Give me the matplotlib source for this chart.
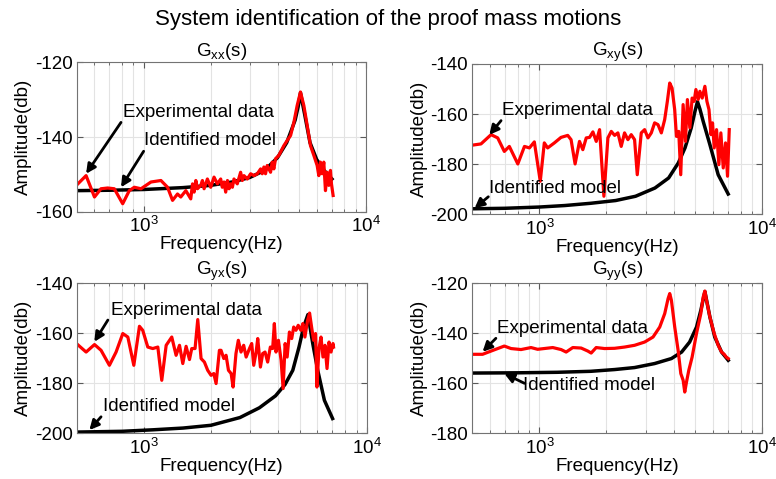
import numpy as np
import matplotlib
matplotlib.use("Agg")
import matplotlib.pyplot as plt
from matplotlib.ticker import LogLocator, NullFormatter, FixedLocator

plt.rcParams["font.family"] = ["Liberation Sans", "DejaVu Sans"]
plt.rcParams["mathtext.fontset"] = "custom"
plt.rcParams["mathtext.rm"] = "Liberation Sans"
plt.rcParams["axes.unicode_minus"] = False

# ----- data -----

# G_xx
gxx_exp_f = [506, 551, 601, 643, 689, 738, 805, 862, 908, 973,
             1079, 1196, 1281, 1349, 1420, 1469, 1548, 1629, 1659, 1687,
             1717, 1746, 1807, 1838, 1870, 1935, 2003, 2073, 2146, 2221,
             2258, 2299, 2339, 2382, 2422, 2465, 2507, 2549, 2637, 2730,
             2778, 2826, 2926, 3028, 3134, 3245, 3359, 3415, 3474, 3533,
             3595, 3722, 3785, 3852, 3918, 4056, 4272, 4424, 4580, 4742,
             4903, 5074, 5253, 5438, 5628, 5826, 6030, 6135, 6242, 6350,
             6460, 6572, 6686, 6803, 6921, 6993, 7114]
gxx_exp_db = [-152.5, -150.3, -156.0, -153.8, -153.6, -153.8, -157.8, -154.3, -153.4, -153.8,
              -152.0, -151.6, -153.4, -156.9, -155.2, -156.0, -154.3, -156.5, -152.5, -154.7,
              -151.6, -153.8, -152.9, -151.6, -153.8, -151.2, -153.4, -150.7, -152.5, -151.2,
              -153.4, -152.0, -154.7, -151.6, -153.8, -152.5, -153.4, -151.2, -152.5, -149.4,
              -151.6, -150.3, -151.2, -149.8, -150.3, -149.8, -148.5, -149.8, -148.0, -149.8,
              -147.6, -149.4, -146.7, -148.5, -145.8, -144.9, -142.3, -140.9, -139.6, -136.0,
              -131.6, -128.0, -131.6, -136.9, -142.3, -144.9, -147.6, -150.3, -146.7, -149.8,
              -146.7, -154.3, -149.4, -152.9, -148.9, -152.5, -155.6]
gxx_mod_f = [506, 700, 1000, 1500, 2000, 2500, 3000, 3500, 4000, 4400, 4800, 4950,
             5074, 5180, 5300, 5600, 6000, 6500, 7030]
gxx_mod_db = [-154.3, -154.2, -154.0, -153.5, -152.9, -152.0, -150.8, -148.9, -145.5, -141.5,
              -135.5, -132.0, -128.2, -131.0, -134.0, -141.5, -146.0, -149.0, -151.2]

# G_xy
gxy_exp_f = [500, 547, 607, 650, 696, 733, 800, 857, 902, 949,
             1009, 1052, 1089, 1167, 1250, 1340, 1387, 1446, 1513, 1566,
             1622, 1679, 1738, 1799, 1862, 1947, 2029, 2101, 2175, 2250,
             2328, 2410, 2495, 2582, 2673, 2748, 2864, 2965, 3069, 3177,
             3288, 3404, 3524, 3648, 3750, 3843, 3936, 4045, 4119, 4218,
             4306, 4413, 4522, 4613, 4731, 4844, 4945, 5036, 5155, 5248,
             5375, 5526, 5643, 5765, 5887, 5980, 6085, 6233, 6386, 6517,
             6680, 6840, 6982, 7108]
gxy_exp_db = [-172.4, -171.9, -168.2, -169.5, -174.9, -172.9, -179.9, -172.9, -173.5, -171.1,
              -186.8, -171.5, -173.5, -171.5, -169.3, -168.5, -170.2, -179.9, -170.9, -174.2,
              -169.5, -169.3, -167.1, -170.9, -166.2, -192.8, -169.5, -166.9, -168.5, -167.5,
              -172.9, -167.5, -170.2, -168.2, -170.2, -184.2, -167.5, -166.2, -169.5, -167.5,
              -163.5, -164.2, -167.5, -162.2, -154.9, -147.6, -149.6, -158.2, -168.9, -166.9,
              -184.2, -156.2, -170.9, -154.2, -165.5, -153.6, -154.9, -150.2, -154.2, -150.9,
              -153.6, -148.9, -154.9, -158.2, -168.2, -163.5, -173.5, -166.2, -180.2, -167.5,
              -181.5, -171.5, -184.8, -166.2]
gxy_mod_f = [500, 700, 1000, 1300, 1700, 2200, 2700, 3300, 3800, 4200, 4500, 4800,
             5000, 5120, 5250, 5430, 5820, 6340, 7030]
gxy_mod_db = [-197.8, -197.6, -197.1, -196.5, -195.6, -194.5, -192.8, -189.5, -185.5, -179.5,
              -173.5, -165.5, -158.5, -155.0, -158.0, -162.9, -172.2, -184.2, -191.9]

# G_yx
gyx_exp_f = [506, 551, 601, 643, 701, 751, 805, 848, 902, 956,
             989, 1042, 1097, 1156, 1204, 1260, 1335, 1396, 1446, 1496,
             1548, 1603, 1641, 1698, 1746, 1807, 1870, 1935, 2003, 2061,
             2110, 2184, 2221, 2285, 2339, 2398, 2465, 2515, 2591, 2655,
             2730, 2806, 2878, 2979, 3049, 3113, 3191, 3245, 3336, 3415,
             3499, 3595, 3696, 3785, 3852, 3918, 4018, 4130, 4217, 4306,
             4396, 4501, 4608, 4704, 4815, 4929, 5067, 5173, 5282, 5430,
             5543, 5659, 5778, 5898, 5980, 6107, 6236, 6366, 6500, 6637,
             6776, 6918, 7061, 7100]
gyx_exp_db = [-164.6, -167.5, -164.5, -166.8, -172.8, -167.5, -160.1, -161.5, -172.8, -157.2,
              -158.8, -165.5, -166.1, -165.5, -178.8, -164.8, -161.5, -168.8, -164.8, -172.1,
              -165.2, -170.5, -166.1, -166.1, -154.5, -170.1, -171.5, -174.8, -176.8, -176.1,
              -180.1, -166.8, -166.8, -170.1, -168.8, -174.8, -176.1, -181.5, -168.1, -162.8,
              -167.5, -164.8, -169.5, -166.1, -164.1, -172.8, -167.5, -162.1, -173.5, -168.1,
              -167.5, -171.5, -165.5, -166.1, -156.1, -167.5, -162.8, -170.8, -182.1, -164.1,
              -169.5, -159.5, -162.1, -157.5, -158.8, -156.8, -158.8, -156.1, -161.5, -154.8,
              -151.9, -157.5, -162.8, -160.1, -181.5, -166.1, -161.5, -169.5, -164.8, -174.1,
              -163.5, -167.5, -164.1, -165.5]
gyx_mod_f = [506, 800, 1100, 1500, 2000, 2700, 3300, 3900, 4300, 4660, 4970, 5210,
             5450, 5728, 6030, 6460, 7030]
gyx_mod_db = [-199.5, -199.2, -198.6, -197.9, -196.8, -193.7, -189.8, -185.0, -180.5, -174.8,
              -165.5, -157.5, -152.5, -164.1, -174.8, -186.8, -194.1]

# G_yy
gyy_exp_f = [500, 556, 607, 650, 696, 746, 827, 917, 982, 1148,
             1251, 1318, 1412, 1539, 1649, 1707, 1798, 1960, 2175, 2411,
             2673, 2965, 3234, 3466, 3650, 3779, 3844, 3910, 4047, 4191,
             4309, 4415, 4488, 4570, 4680, 4844, 5067, 5300, 5430, 5526,
             5620, 5820, 6086, 6340, 6565, 6747, 6890, 7034]
gyy_exp_db = [-148.4, -148.4, -147.1, -146.1, -145.1, -146.1, -146.5, -145.7, -146.4, -145.7,
              -146.5, -147.5, -145.7, -145.9, -147.1, -147.9, -145.7, -146.1, -146.0, -145.5,
              -144.8, -143.5, -141.5, -137.5, -132.1, -126.1, -124.1, -126.8, -137.5, -146.8,
              -156.1, -158.8, -163.5, -159.5, -154.8, -149.5, -140.1, -132.1, -125.5, -123.1,
              -126.8, -133.5, -140.1, -144.8, -147.5, -148.4, -149.5, -150.1]
gyy_mod_f = [500, 800, 1200, 1700, 2175, 2673, 3288, 3910, 4346, 4720, 5070, 5300,
             5526, 5820, 6120, 6565, 7034]
gyy_mod_db = [-155.9, -155.8, -155.6, -155.2, -154.5, -153.7, -152.1, -150.1, -147.5, -143.5,
              -137.5, -130.8, -123.3, -133.5, -141.5, -147.5, -150.8]

titles = [r"G$\mathregular{_{xx}}$(s)", r"G$\mathregular{_{xy}}$(s)",
          r"G$\mathregular{_{yx}}$(s)", r"G$\mathregular{_{yy}}$(s)"]
ylims = [(-160, -120), (-200, -140), (-200, -140), (-180, -120)]

# ----- layout -----
W, H = 776, 479
axes_px = [(76.7, 62.0, 366.0, 212.0),
           (472.3, 64.0, 762.3, 214.3),
           (76.7, 283.3, 366.7, 433.3),
           (472.3, 283.3, 762.3, 433.3)]

# annotation placement: (text x, text y, arrow tail x, tail y, tip x, tip y)
exp_notes = [(805, -133.4, 791, -136.1, 551, -149.8),
             (680, -158.4, 673, -162.6, 596, -168.3),
             (713, -150.7, 690, -154.7, 600, -163.4),
             (643, -138.0, 638, -142.0, 556, -147.4)]
mod_notes = [(1006, -140.9, 1000, -143.8, 791, -153.4),
             (596, -189.6, 590, -193.0, 512, -197.6),
             (655, -189.4, 643, -193.4, 570, -198.7),
             (841, -160.7, 857, -160.0, 696, -156.1)]

exp_f = [gxx_exp_f, gxy_exp_f, gyx_exp_f, gyy_exp_f]
exp_db = [gxx_exp_db, gxy_exp_db, gyx_exp_db, gyy_exp_db]
mod_f = [gxx_mod_f, gxy_mod_f, gyx_mod_f, gyy_mod_f]
mod_db = [gxx_mod_db, gxy_mod_db, gyx_mod_db, gyy_mod_db]

fig = plt.figure(figsize=(W / 100, H / 100), dpi=100)
fig.text(0.5, 1 - 20 / H, "System identification of the proof mass motions",
         ha="center", va="center", fontsize=16)

fs = 13.5
for i in range(4):
    l, t, r, b = axes_px[i]
    ax = fig.add_axes([l / W, 1 - b / H, (r - l) / W, (b - t) / H])
    ax.semilogx(mod_f[i], mod_db[i], color="k", lw=2.5)
    ax.semilogx(exp_f[i], exp_db[i], color="#ff0000", lw=2.3)
    ax.set_xlim(500, 10000)
    ax.set_ylim(*ylims[i])
    ax.yaxis.set_major_locator(FixedLocator(np.arange(ylims[i][0], ylims[i][1] + 1, 20)))
    ax.xaxis.set_major_locator(LogLocator(base=10))
    ax.xaxis.set_minor_locator(LogLocator(base=10, subs=np.arange(2, 10)))
    ax.xaxis.set_minor_formatter(NullFormatter())
    ax.grid(True, which="both", axis="x", color="#e3e3e3", lw=0.8)
    ax.grid(True, which="major", axis="y", color="#e3e3e3", lw=0.8)
    ax.set_axisbelow(True)
    ax.tick_params(which="both", direction="in", top=True, right=True,
                   labelsize=fs, color="0.35", pad=3)
    ax.tick_params(which="major", length=4)
    ax.tick_params(which="minor", length=2)
    for sp in ax.spines.values():
        sp.set_color("0.45")
        sp.set_linewidth(0.8)
    ax.set_title(titles[i], fontsize=fs, pad=2)
    ax.set_xlabel("Frequency(Hz)", fontsize=fs, labelpad=0)
    ax.set_ylabel("Amplitude(db)", fontsize=fs, labelpad=2)

    for note, label in ((exp_notes[i], "Experimental data"), (mod_notes[i], "Identified model")):
        tx, ty, ax0, ay0, ax1, ay1 = note
        ax.text(tx, ty, label, fontsize=fs, ha="left", va="center")
        ax.annotate("", xy=(ax1, ay1), xytext=(ax0, ay0),
                    arrowprops=dict(arrowstyle="-|>", color="k", lw=2,
                                    mutation_scale=14, shrinkA=0, shrinkB=0))

fig.savefig("out.png", dpi=100)
